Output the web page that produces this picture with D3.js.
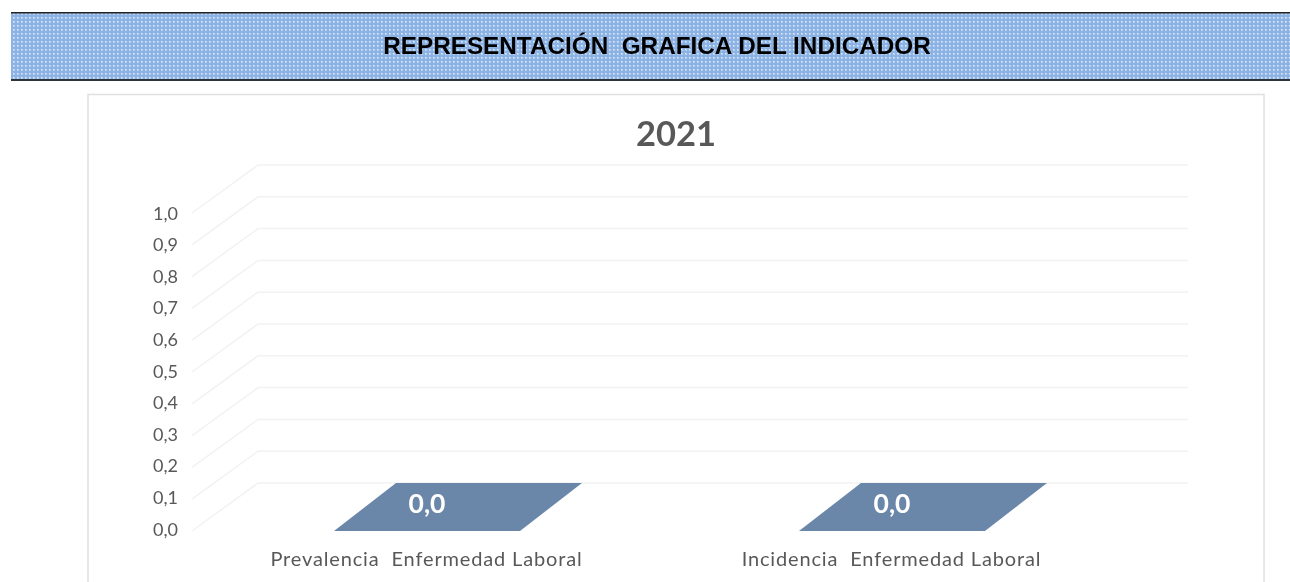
<!DOCTYPE html>
<html><head><meta charset="utf-8">
<script src="https://cdn.jsdelivr.net/npm/d3@7"></script>
<style>html,body{margin:0;padding:0;background:#fff;overflow:hidden}svg{display:block}</style>
</head><body><div id="c"></div>
<script>
const categories = ["Prevalencia  Enfermedad Laboral", "Incidencia  Enfermedad Laboral"];
const values = [0, 0];
const valueLabels = ["0,0", "0,0"];
const ticks = [0, 0.1, 0.2, 0.3, 0.4, 0.5, 0.6, 0.7, 0.8, 0.9, 1.0];
const chartTitle = "2021";
const headerTitle = "REPRESENTACIÓN  GRAFICA DEL INDICADOR";

const svg = d3.select("#c").append("svg").attr("width",1290).attr("height",582);
const defs = svg.append("defs");
const pat = defs.append("pattern").attr("id","dots").attr("patternUnits","userSpaceOnUse").attr("width",4).attr("height",4);
pat.append("rect").attr("width",4).attr("height",4).attr("fill","#8db3e4");
pat.append("rect").attr("x",1).attr("y",1).attr("width",2).attr("height",2).attr("fill","#b4cff0");
pat.append("rect").attr("x",1).attr("y",1).attr("width",1).attr("height",1).attr("fill","#e4eefa");
defs.append("filter").attr("id","soft").attr("x","-2%").attr("y","-10%").attr("width","104%").attr("height","120%")
  .append("feGaussianBlur").attr("stdDeviation",0.45);

// header band
svg.append("rect").attr("x",11).attr("y",13).attr("width",1279).attr("height",67).attr("fill","url(#dots)");
svg.append("rect").attr("x",11).attr("y",12).attr("width",1279).attr("height",1.5).attr("fill","#222");
svg.append("rect").attr("x",11).attr("y",79).attr("width",1279).attr("height",2).attr("fill","#2c333c");
svg.append("text").attr("x",657).attr("y",53.5).attr("text-anchor","middle")
  .attr("font-family","Liberation Sans").attr("font-weight","bold").attr("font-size",24.3).attr("fill","#000")
  .attr("filter","url(#soft)").style("white-space","pre").text(headerTitle);

// chart frame
svg.append("rect").attr("x",88).attr("y",94.5).attr("width",1176).attr("height",520).attr("fill","#fff").attr("stroke","#e0e0e0").attr("stroke-width",1.5);
svg.append("text").attr("x",676).attr("y",146).attr("text-anchor","middle")
  .attr("font-family","Lato").attr("font-weight","bold").attr("font-size",34.5).attr("fill","#595959")
  .attr("filter","url(#soft)").text(chartTitle);

// 3D chart geometry
const depthX = 66, depthY = 48;
const y = d3.scaleLinear().domain([0,1]).range([483,165]);
const yLabel = d3.scaleLinear().domain([0,1]).range([535.5,219.5]);
const x = d3.scaleBand().domain(categories).range([192,1122]).paddingInner(0).paddingOuter(0);
const grid = "#f2f2f2";
const g = svg.append("g");
g.selectAll("path.grid").data(ticks).join("path").attr("class","grid")
  .attr("fill","none").attr("stroke",grid).attr("stroke-width",1.5)
  .attr("d", t => d3.line()([[192,y(t)+depthY],[192+depthX,y(t)],[1122+depthX,y(t)]]));

g.selectAll("text.tick").data(ticks).join("text").attr("class","tick")
  .attr("x",178).attr("y",t=>yLabel(t)).attr("text-anchor","end")
  .attr("font-family","Lato").attr("font-size",18).attr("fill","#595959")
  .attr("filter","url(#soft)").text(t=>d3.format(".1f")(t).replace(".",","));

// bars: zero-height columns show only their top face
const barW = x.bandwidth()*0.4, barDX = 62, shift = 2.5;
const barX = c => x(c)+(x.bandwidth()-barW)/2+shift;
g.selectAll("path.bar").data(categories).join("path").attr("class","bar").attr("fill","#6a87aa")
  .attr("d",(c,i)=>{
    const f = y(values[i])+depthY, b = y(values[i]), l = barX(c), r = l+barW;
    return d3.line()([[l,f],[r,f],[r+barDX,b],[l+barDX,b]])+"Z";
  });
g.selectAll("text.val").data(categories).join("text").attr("class","val")
  .attr("x",c=>barX(c)+barW/2).attr("y",(c,i)=>y(values[i])+29.5)
  .attr("text-anchor","middle").attr("font-family","Lato").attr("font-weight","bold").attr("font-size",26.5).attr("fill","#fff")
  .attr("filter","url(#soft)").text((c,i)=>valueLabels[i]);
g.selectAll("text.cat").data(categories).join("text").attr("class","cat")
  .attr("x",c=>x(c)+x.bandwidth()/2+2).attr("y",566).attr("text-anchor","middle")
  .attr("font-family","Lato").attr("font-size",20).attr("letter-spacing",0.85).attr("fill","#595959")
  .attr("filter","url(#soft)").style("white-space","pre").text(c=>c);
</script></body></html>
